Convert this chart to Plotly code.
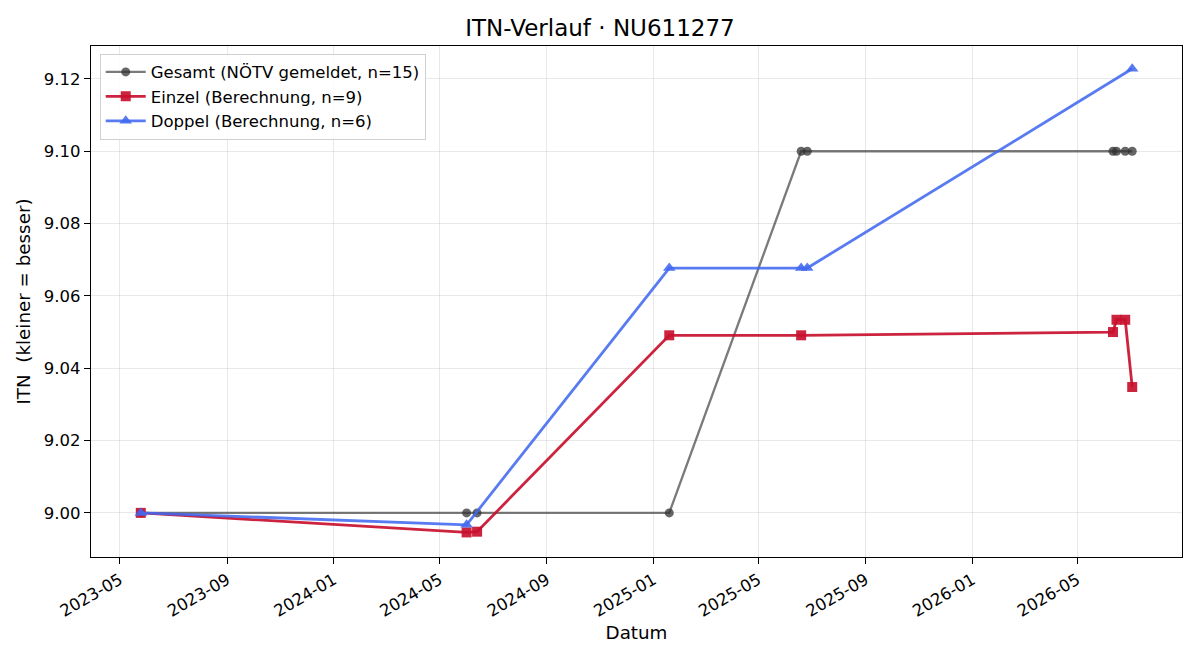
import plotly.graph_objects as go

gesamt_dates = ["2023-05-25", "2024-06-01", "2024-06-13", "2025-01-19", "2025-06-19",
                "2025-06-26", "2026-06-11", "2026-06-15", "2026-06-25", "2026-07-03"]
gesamt_vals = [9.000, 9.000, 9.000, 9.000, 9.100, 9.100, 9.100, 9.100, 9.100, 9.100]

einzel_dates = ["2023-05-25", "2024-06-01", "2024-06-13", "2025-01-19", "2025-06-19",
                "2026-06-11", "2026-06-15", "2026-06-25", "2026-07-03"]
einzel_vals = [9.000, 8.9946, 8.9948, 9.0491, 9.0491, 9.0500, 9.0534, 9.0534, 9.0348]

doppel_dates = ["2023-05-25", "2024-06-01", "2025-01-19", "2025-06-19", "2025-06-26", "2026-07-03"]
doppel_vals = [9.000, 8.9967, 9.0677, 9.0677, 9.0677, 9.1228]

y_ticks = [9.00, 9.02, 9.04, 9.06, 9.08, 9.10, 9.12]

fig = go.Figure()
fig.add_trace(go.Scatter(
    x=gesamt_dates, y=gesamt_vals, mode="lines+markers",
    name="Gesamt (NÖTV gemeldet, n=15)",
    line=dict(color="rgba(51,51,51,0.65)", width=2.3),
    marker=dict(symbol="circle", size=9, color="rgba(51,51,51,0.75)"),
))
fig.add_trace(go.Scatter(
    x=einzel_dates, y=einzel_vals, mode="lines+markers",
    name="Einzel (Berechnung, n=9)",
    line=dict(color="rgba(200,16,46,0.92)", width=2.8),
    marker=dict(symbol="square", size=10, color="rgba(200,16,46,0.92)"),
))
fig.add_trace(go.Scatter(
    x=doppel_dates, y=doppel_vals, mode="lines+markers",
    name="Doppel (Berechnung, n=6)",
    line=dict(color="rgba(65,105,240,0.88)", width=2.8),
    marker=dict(symbol="triangle-up", size=11, color="rgba(65,105,240,0.88)"),
))

font = "DejaVu Sans"
fig.update_layout(
    width=1200, height=660,
    margin=dict(l=91, r=18, t=46, b=103),
    paper_bgcolor="white", plot_bgcolor="white",
    font=dict(family=font, size=16.7, color="black"),
    title=dict(text="ITN-Verlauf · NU611277", x=0.5, xanchor="center", y=0.957, yanchor="middle",
               font=dict(size=23, family=font)),
    showlegend=True,
    legend=dict(x=0.008, y=0.985, xanchor="left", yanchor="top",
                bgcolor="rgba(255,255,255,0.85)", bordercolor="#d0d0d0", borderwidth=1,
                font=dict(size=16.5, family=font), tracegroupgap=2, itemwidth=40),
)
fig.update_xaxes(
    type="date", range=["2023-03-29", "2026-08-29"],
    tick0="2023-05-01", dtick="M4", tickformat="%Y-%m", tickangle=-30,
    showgrid=True, gridcolor="rgba(0,0,0,0.09)", gridwidth=1,
    showline=True, linecolor="black", linewidth=1.2, mirror=True,
    ticks="outside", ticklen=6, tickcolor="black",
    tickfont=dict(size=16.5, family=font),
    title=dict(text="Datum", font=dict(size=18.3, family=font), standoff=6),
    zeroline=False,
)
fig.update_yaxes(
    range=[8.9878, 9.1291], tickvals=y_ticks, tickformat=".2f",
    showgrid=True, gridcolor="rgba(0,0,0,0.09)", gridwidth=1,
    showline=True, linecolor="black", linewidth=1.2, mirror=True,
    ticks="outside", ticklen=6, tickcolor="black",
    tickfont=dict(size=16.5, family=font),
    title=dict(text="ITN  (kleiner = besser)", font=dict(size=18.3, family=font), standoff=8),
    zeroline=False,
)

fig.write_html("out.html")
